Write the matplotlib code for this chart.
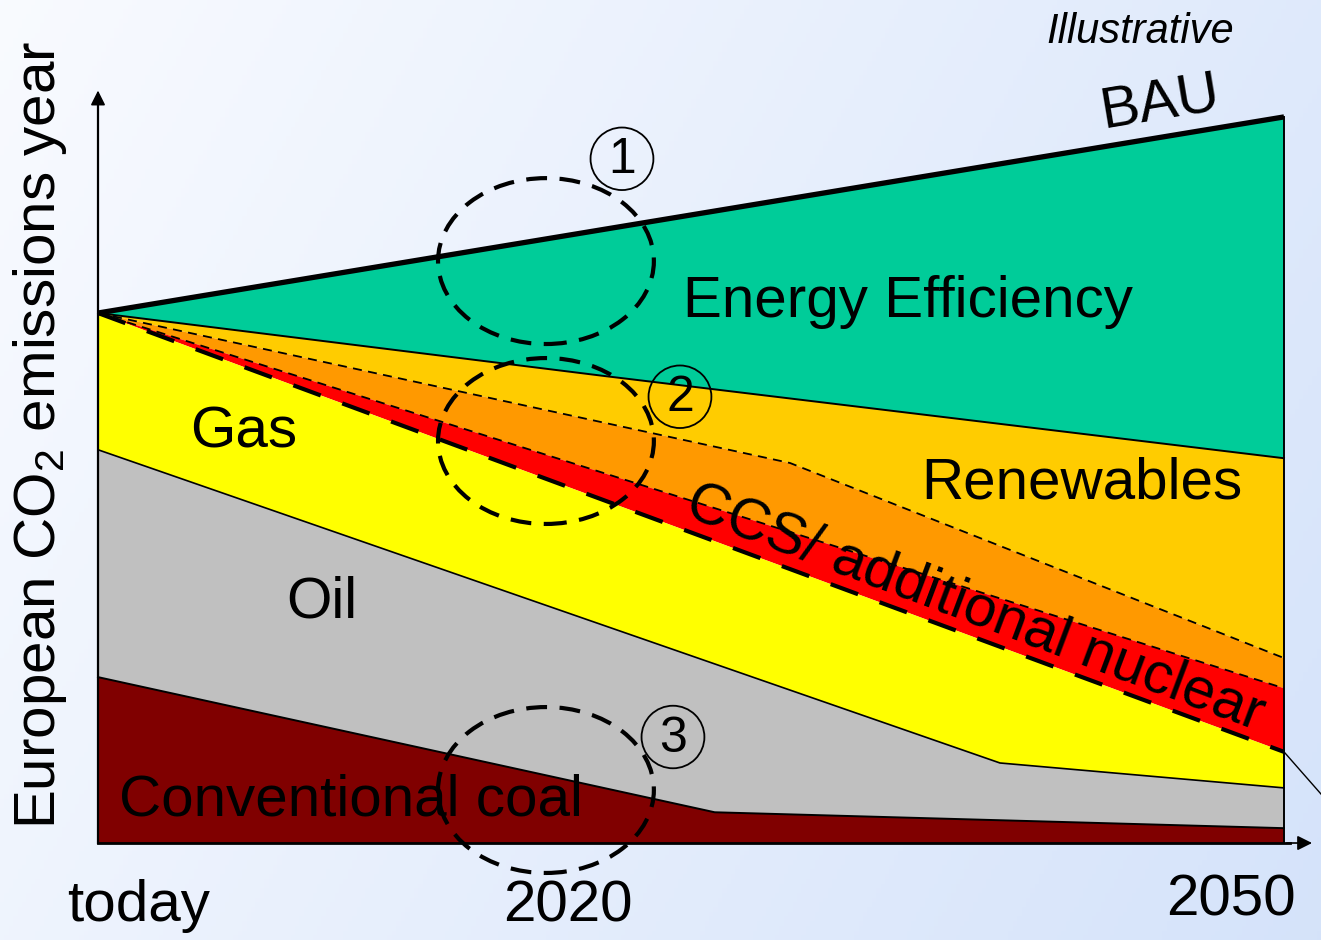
import numpy as np
import matplotlib.pyplot as plt
from matplotlib.patches import Ellipse

plt.rcParams['font.family'] = ['Liberation Sans', 'DejaVu Sans']
plt.rcParams['mathtext.fontset'] = 'custom'
plt.rcParams['mathtext.rm'] = 'Liberation Sans'
plt.rcParams['mathtext.it'] = 'Liberation Sans:italic'

# x: 0 = today ... 100 = 2050, y: emissions indexed to today = 100
bau_x = [0, 100]
bau_y = [100, 137.0]
# lower edge of every wedge, top to bottom
eff_x = [0, 42.75, 100]
eff_y = [100, 88.1, 72.6]
ren_x = [0, 58.35, 100]
ren_y = [100, 71.7, 34.9]
addren_x = [0, 100]
addren_y = [100, 29.2]
ccs_x = [0, 100]
ccs_y = [100, 17.2]
gas_x = [0, 76.05, 100]
gas_y = [74.2, 15.1, 10.4]
oil_x = [0, 52.0, 100]
oil_y = [31.3, 5.8, 2.8]
coal_x = [0, 100]
coal_y = [0, 0]

band_names = ['Energy Efficiency', 'Renewables', '', 'CCS/ additional nuclear',
              'Gas', 'Oil', 'Conventional coal']
band_colors = ['#00CC99', '#FFCC00', '#FF9900', '#FF0000', '#FFFF00', '#C0C0C0', '#800000']
edges = [(bau_x, bau_y), (eff_x, eff_y), (ren_x, ren_y), (addren_x, addren_y),
         (ccs_x, ccs_y), (gas_x, gas_y), (oil_x, oil_y), (coal_x, coal_y)]

# label positions (x, y, rotation)
label_pos = [(68.3, 102.1, 0), (82.97, 67.9, 0), None, (74.0, 44.3, -20.6),
             (12.3, 77.5, 0), (18.9, 45.3, 0), (21.3, 8.1, 0)]

# dashed focus circles and their numbers
focus_x = [37.77, 37.77, 37.77]
focus_y = [109.8, 75.85, 10.0]
num_x = [44.18, 49.07, 48.48]
num_y = [129.1, 84.2, 20.0]
num_txt = ['1', '2', '3']

time_labels = ['today', '2020', '2050']
time_pos = [(3.46, -11.9), (39.6, -12.0), (95.5, -10.9)]

xlim = (-8.263, 103.12)
ylim = (-18.3, 159.06)

fig = plt.figure(figsize=(13.21, 9.40), dpi=100)
ax = fig.add_axes([0, 0, 1, 1])
ax.set_xlim(*xlim)
ax.set_ylim(*ylim)
ax.axis('off')

# soft blue background
gx, gy = np.meshgrid(np.linspace(0, 1, 300), np.linspace(0, 1, 200))
t = 0.72 * gx + 0.28 * gy
c0 = np.array([0.975, 0.983, 1.0])
c1 = np.array([0.835, 0.89, 0.98])
bg = c0[None, None, :] * (1 - t[..., None]) + c1[None, None, :] * t[..., None]
ax.imshow(bg, extent=(xlim[0], xlim[1], ylim[0], ylim[1]), origin='upper',
          aspect='auto', zorder=0)

# wedges
for i in range(len(band_colors)):
    xt, yt = edges[i]
    xb, yb = edges[i + 1]
    ax.fill(np.r_[xt, xb[::-1]], np.r_[yt, yb[::-1]], color=band_colors[i],
            lw=0, zorder=1)

# boundaries
ax.plot(bau_x, bau_y, color='k', lw=3.8, solid_capstyle='butt', zorder=4)
ax.plot(eff_x, eff_y, color='k', lw=1.4, zorder=3)
ax.plot(ren_x, ren_y, color='k', lw=1.3, ls=(0, (5, 3.5)), zorder=3)
ax.plot(addren_x, addren_y, color='k', lw=1.3, ls=(0, (5, 3.5)), zorder=3)
ax.plot(ccs_x, ccs_y, color='k', lw=3.0, ls=(0, (7, 5.5)), zorder=3)
ax.plot(gas_x, gas_y, color='k', lw=1.2, zorder=3)
ax.plot(oil_x, oil_y, color='k', lw=1.4, zorder=3)
ax.plot([100, 100], [0, bau_y[-1]], color='k', lw=1.4, zorder=3)
ax.plot([100, 104], [ccs_y[-1], 7.0], color='k', lw=1.0, zorder=3, clip_on=False)

# axes with arrows
ax.plot([0, 0], [0, 140], color='k', lw=1.6, zorder=5)
ax.annotate('', xy=(0, 142.5), xytext=(0, 138),
            arrowprops=dict(arrowstyle='-|>', color='k', lw=1.2, mutation_scale=22), zorder=5)
ax.plot([0, 100.5], [0, 0], color='k', lw=2.0, zorder=5)
ax.annotate('', xy=(102.6, 0), xytext=(100, 0),
            arrowprops=dict(arrowstyle='-|>', color='k', lw=1.2, mutation_scale=22), zorder=5)

# wedge labels
for name, pos in zip(band_names, label_pos):
    if pos is None:
        continue
    ax.text(pos[0], pos[1], name, fontsize=42, rotation=pos[2], rotation_mode='anchor',
            ha='center', va='center', zorder=6)
ax.text(89.5, 139.6, 'BAU', fontsize=42, rotation=9.4, rotation_mode='anchor',
        ha='center', va='center', zorder=6)

# focus circles
for fx, fy in zip(focus_x, focus_y):
    ax.add_patch(Ellipse((fx, fy), 18.2, 31.3, fill=False, ec='k', lw=3.0,
                         ls=(0, (5, 3)), zorder=7, clip_on=False))
for nx, ny, s in zip(num_x, num_y, num_txt):
    ax.add_patch(Ellipse((nx, ny), 5.3, 11.8, fill=False, ec='k', lw=1.3, zorder=7))
    ax.text(nx, ny - 0.3, s, fontsize=36, ha='center', va='center', zorder=7)

# time labels
for s, (tx, ty) in zip(time_labels, time_pos):
    ax.text(tx, ty, s, fontsize=42, ha='center', va='center', zorder=6)

ax.text(-4.9, 77.0, 'European CO$_2$ emissions year', fontsize=42, rotation=90,
        ha='center', va='center', zorder=6)
ax.text(87.86, 153.0, 'Illustrative', fontsize=30, style='italic',
        ha='center', va='center', zorder=6)

fig.savefig('out.png', dpi=100)
